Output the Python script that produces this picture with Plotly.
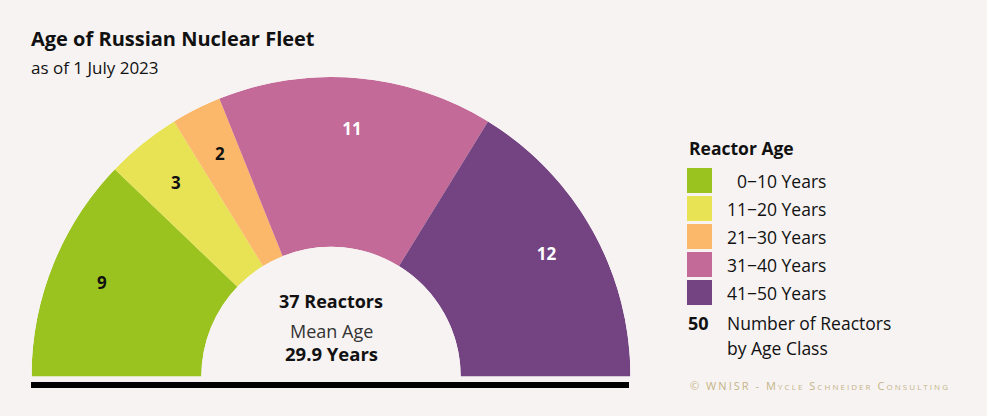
import plotly.graph_objects as go

# ---- data ----
age_classes = ["0\u201310 Years", "11\u201320 Years", "21\u201330 Years", "31\u201340 Years", "41\u201350 Years"]
legend_labels = ["\u20070\u221210 Years", "11\u221220 Years", "21\u221230 Years", "31\u221240 Years", "41\u221250 Years"]
reactors = [9, 3, 2, 11, 12]
colors = ["#9bc31f", "#e8e355", "#fbb86a", "#c46a98", "#744482"]
label_colors = ["#111111", "#111111", "#111111", "#ffffff", "#ffffff"]
mean_age = 29.9

W, H = 987, 416
BG = "#f7f3f2"
FONT = "Open Sans"

def px(x):
    return x / W

def py(y):
    return 1 - y / H

total = sum(reactors)
thetas, widths = [], []
cum = 0
for v in reactors:
    thetas.append(180 - (cum + v / 2) * 180 / total)
    widths.append(v * 180 / total)
    cum += v

fig = go.Figure()
fig.add_trace(go.Barpolar(
    r=[1] * len(reactors), theta=thetas, width=widths,
    marker=dict(color=colors, line=dict(width=0)),
    showlegend=False, hoverinfo="skip",
))
fig.add_trace(go.Scatterpolar(
    r=[0.69] * len(reactors), theta=thetas, mode="text",
    text=[str(v) for v in reactors],
    textfont=dict(family=FONT, size=17, color=label_colors, weight=700),
    showlegend=False, hoverinfo="skip",
))

cx0, cx1 = 31.5, 630.5
cy_top, cy_bot = 77, 376.5
fig.update_layout(
    width=W, height=H,
    margin=dict(l=0, r=0, t=0, b=0),
    paper_bgcolor=BG, plot_bgcolor=BG,
    polar=dict(
        domain=dict(x=[px(cx0), px(cx1)], y=[py(cy_bot), py(cy_top)]),
        sector=[0, 180], hole=0.433,
        bgcolor="rgba(0,0,0,0)",
        radialaxis=dict(visible=False, range=[0, 1]),
        angularaxis=dict(visible=False),
    ),
    bargap=0,
)

ann = []
def text(x, y, s, size, bold=False, color="#111111", anchor="left", **fontkw):
    ann.append(dict(x=px(x), y=py(y), xref="paper", yref="paper", text=s, showarrow=False,
                    xanchor=anchor, yanchor="middle",
                    font=dict(family=FONT, size=size, color=color, weight=700 if bold else 400, **fontkw)))

text(29, 38, "Age of Russian Nuclear Fleet", 20, bold=True)
text(29, 67, "as of 1 July 2023", 17)

cxm = (cx0 + cx1) / 2
text(cxm, 301, f"{total} Reactors", 18, bold=True, anchor="center")
text(cxm, 331, "Mean Age", 18, color="#333333", anchor="center")
text(cxm, 353, f"{mean_age} Years", 18.5, bold=True, anchor="center")

# legend
text(687, 148, "Reactor Age", 17.5, bold=True)
shapes = []
for i, (lab, c) in enumerate(zip(legend_labels, colors)):
    y0 = 168 + i * 28
    shapes.append(dict(type="rect", xref="paper", yref="paper",
                       x0=px(687), x1=px(712), y0=py(y0 + 25), y1=py(y0),
                       fillcolor=c, line=dict(width=0)))
    text(725, y0 + 13, lab, 17.5)
text(686, 323, "50", 18, bold=True)
text(725, 323, "Number of Reactors", 17.5)
text(725, 348, "by Age Class", 17.5)

copy = "<span style='letter-spacing:2.05px'>\u00a9 WNISR - Mycle Schneider Consulting</span>"
text(688, 385, copy, 11, color="#c4b388", variant="small-caps")

# baseline bar
shapes.append(dict(type="rect", xref="paper", yref="paper",
                   x0=px(31), x1=px(629), y0=py(388), y1=py(382),
                   fillcolor="#000000", line=dict(width=0)))

fig.update_layout(annotations=ann, shapes=shapes)
fig.write_html("out.html", config={"displayModeBar": False},
               post_script="document.body.style.margin='0';")
